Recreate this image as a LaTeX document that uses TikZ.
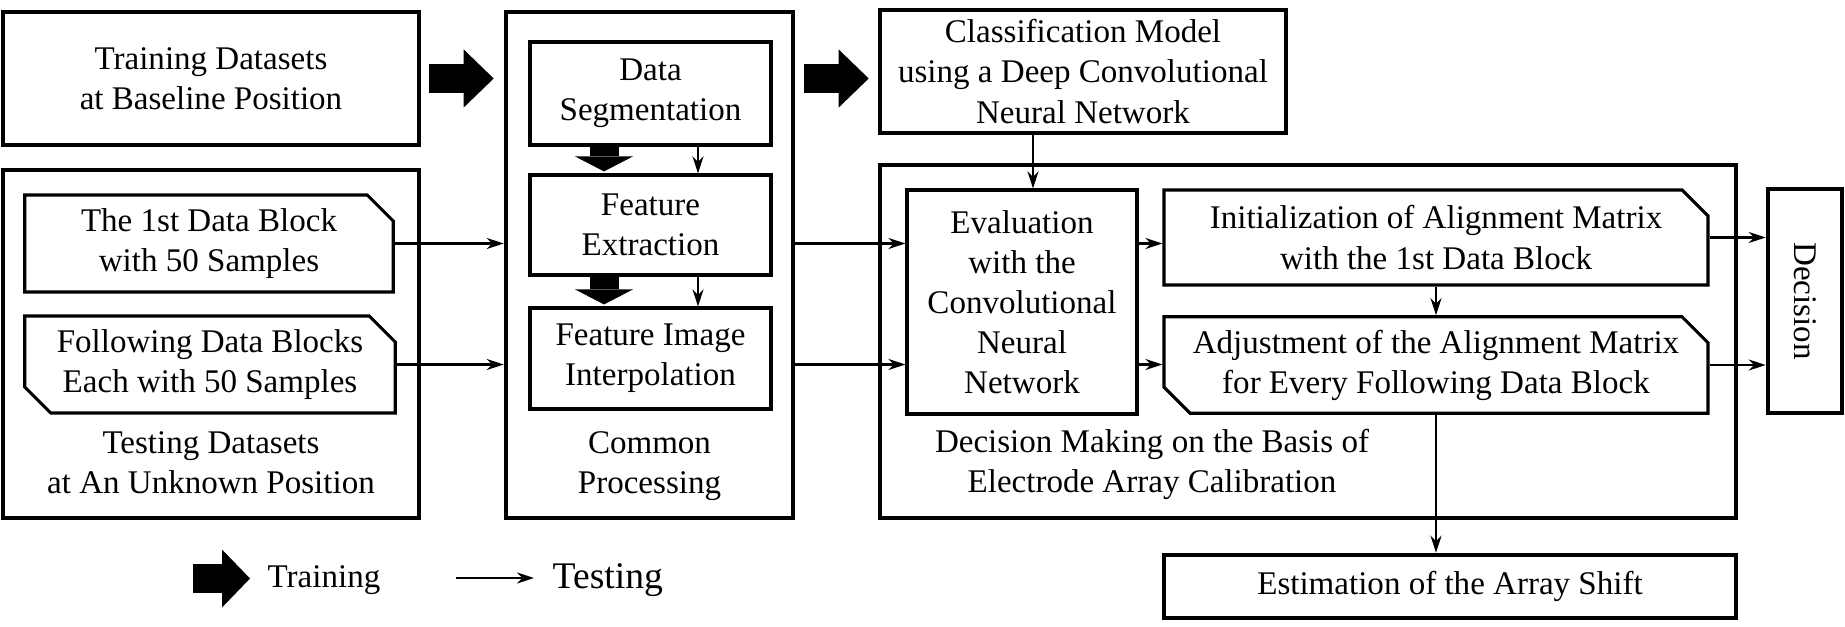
\documentclass[tikz,border=0pt]{standalone}
\usepackage{fontspec}
\setmainfont{Liberation Serif}
\usetikzlibrary{arrows.meta,shapes.misc}
\begin{document}
\begin{tikzpicture}[font=\fontsize{9.4}{11.4}\selectfont,
  outerbox/.style={draw, line width=1.3pt, align=center, inner sep=0pt},
  innerbox/.style={draw, line width=0.9pt, align=center, inner sep=0pt},
  cutne/.style={innerbox, chamfered rectangle, chamfered rectangle corners=north east, chamfered rectangle xsep=0.13cm, chamfered rectangle ysep=0.13cm},
  cutboth/.style={cutne, chamfered rectangle corners={north east,south west}},
  caption/.style={align=center, inner sep=0pt},
  trainarrow/.style={line width=0.29cm, -{Triangle[length=#1,width=0.58cm,line width=0pt]}},
  trainarrow/.default=0.30cm,
  testarrow/.style={line width=0.7pt, -{Stealth[length=0.17cm,width=0.11cm]}}]
\useasboundingbox (0,0) rectangle (18.45,-6.27);
% datasets
\node[outerbox, minimum width=4.16cm, minimum height=1.33cm] (train) at (2.11,-0.785) {Training Datasets\\at Baseline Position};
\node[outerbox, minimum width=4.16cm, minimum height=3.48cm] (test) at (2.11,-3.44) {};
\node[cutne, minimum width=3.685cm, minimum height=0.97cm] (block1) at (2.09,-2.435) {The 1st Data Block\\with 50 Samples};
\node[cutboth, minimum width=3.705cm, minimum height=0.97cm] (blocks) at (2.10,-3.645) {Following Data Blocks\\Each with 50 Samples};
\node[caption] (testlbl) at (2.11,-4.625) {Testing Datasets\\at An Unknown Position};
% common processing
\node[outerbox, minimum width=2.87cm, minimum height=5.06cm] (common) at (6.495,-2.65) {};
\node[innerbox, minimum width=2.41cm, minimum height=1.03cm] (seg) at (6.505,-0.935) {Data\\Segmentation};
\node[innerbox, minimum width=2.41cm, minimum height=1.00cm] (feat) at (6.505,-2.25) {Feature\\Extraction};
\node[innerbox, minimum width=2.41cm, minimum height=1.01cm] (interp) at (6.505,-3.585) {Feature Image\\Interpolation};
\node[caption] (commonlbl) at (6.495,-4.66) {Common\\Processing};
% model and decision
\node[outerbox, minimum width=4.06cm, minimum height=1.23cm] (cnn) at (10.83,-0.715) {Classification Model\\using a Deep Convolutional\\Neural Network};
\node[outerbox, minimum width=8.56cm, minimum height=3.53cm] (decide) at (13.08,-3.415) {};
\node[innerbox, minimum width=2.30cm, minimum height=2.24cm] (eval) at (10.22,-3.02) {Evaluation\\with the\\Convolutional\\Neural\\Network};
\node[cutne, minimum width=5.44cm, minimum height=0.95cm] (init) at (14.36,-2.375) {Initialization of Alignment Matrix\\with the 1st Data Block};
\node[cutboth, minimum width=5.44cm, minimum height=0.96cm] (adjust) at (14.36,-3.65) {Adjustment of the Alignment Matrix\\for Every Following Data Block};
\node[caption] (decidelbl) at (11.52,-4.64) {Decision Making on the Basis of\\Electrode Array Calibration};
\node[outerbox, minimum width=0.74cm, minimum height=2.24cm] (decision) at (18.05,-3.01) {\rotatebox{-90}{Decision}};
\node[outerbox, minimum width=5.72cm, minimum height=0.63cm] (shift) at (14.50,-5.865) {Estimation of the Array Shift};
% training arrows
\draw[trainarrow, shorten <=0.08cm, shorten >=0.10cm] (train.east) -- (common.west |- train.east);
\draw[trainarrow, shorten <=0.09cm, shorten >=0.09cm] (common.east |- train.east) -- (cnn.west |- train.east);
\draw[trainarrow=0.15cm, shorten >=0.02cm] ([xshift=-0.465cm]seg.south) -- ([xshift=-0.465cm]feat.north);
\draw[trainarrow=0.15cm, shorten >=0.02cm] ([xshift=-0.465cm]feat.south) -- ([xshift=-0.465cm]interp.north);
% testing arrows
\draw[testarrow] ([xshift=0.475cm]seg.south) -- ([xshift=0.475cm]feat.north);
\draw[testarrow] ([xshift=0.475cm]feat.south) -- ([xshift=0.475cm]interp.north);
\draw[testarrow] (block1.east) -- (common.west |- block1.east);
\draw[testarrow] (blocks.east) -- (common.west |- blocks.east);
\draw[testarrow] (common.east |- block1.east) -- (eval.west |- block1.east);
\draw[testarrow] (common.east |- blocks.east) -- (eval.west |- blocks.east);
\draw[testarrow] (eval.east |- block1.east) -- (init.west |- block1.east);
\draw[testarrow] (eval.east |- blocks.east) -- (adjust.west |- blocks.east);
\draw[testarrow] ([xshift=0.11cm]eval.north |- cnn.south) -- ([xshift=0.11cm]eval.north);
\draw[testarrow] (init.south) -- (adjust.north);
\draw[testarrow] (init.east) -- (decision.west |- init.east);
\draw[testarrow] (adjust.east) -- (decision.west |- adjust.east);
\draw[testarrow] (adjust.south) -- (adjust.south |- shift.north);
% legend
\coordinate (trainA) at (1.93,-5.785);
\coordinate (trainB) at (2.50,-5.785);
\draw[trainarrow=0.28cm] (trainA) -- (trainB);
\node[anchor=west, inner sep=0pt] (trainlbl) at (2.67,-5.80) {Training};
\coordinate (testA) at (4.56,-5.78);
\coordinate (testB) at (5.34,-5.78);
\draw[testarrow] (testA) -- (testB);
\node[anchor=west, inner sep=0pt, font=\fontsize{10.7}{12}\selectfont] (testlbl2) at (5.52,-5.80) {Testing};
\end{tikzpicture}
\end{document}
